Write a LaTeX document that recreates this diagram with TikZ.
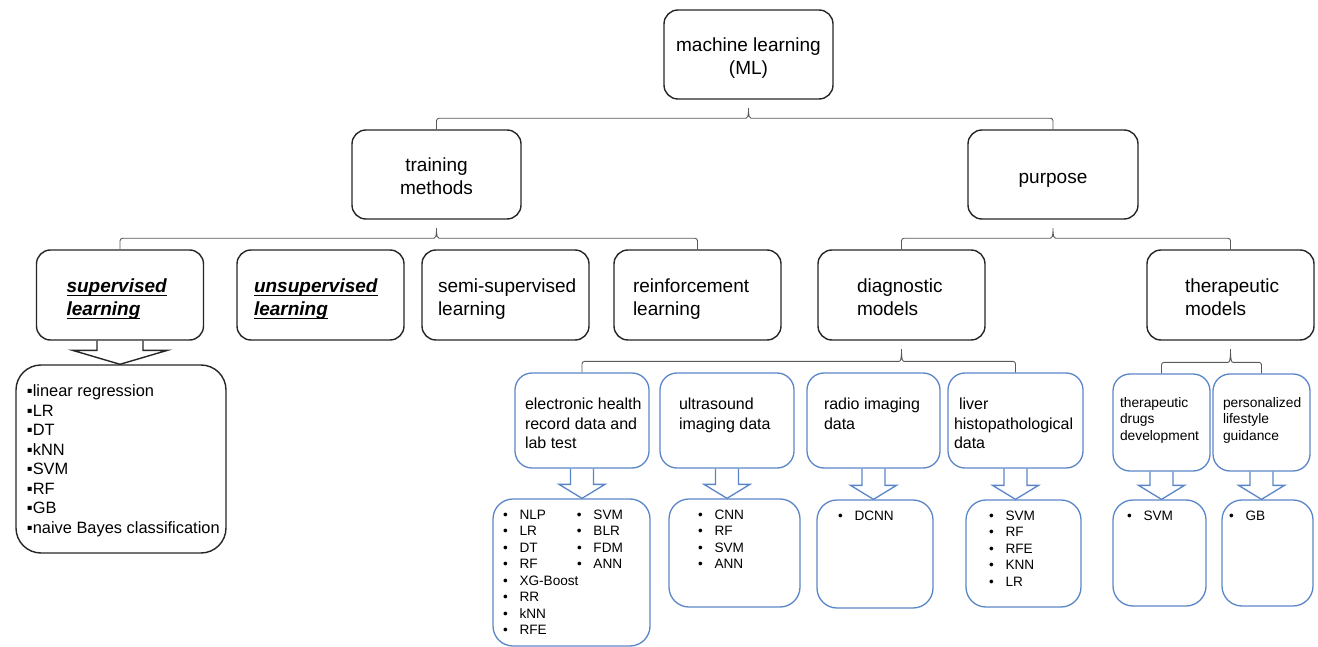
\documentclass[tikz,border=0pt]{standalone}
\usepackage{fontspec}
\setmainfont{Liberation Sans}
\usetikzlibrary{calc}
\definecolor{boxblue}{RGB}{90,134,200}
\def\bracket(#1)(#2)(#3){\draw[brk] let \p1=(#1.north), \p2=(#2.south), \p3=(#3.north) in (\x1,\y1) -- (\x1,\y1+11pt) -- (\x2-5pt,\y1+11pt) .. controls (\x2-1pt,\y1+11pt) and (\x2,\y1+13pt) .. (\x2,\y2-7pt) .. controls (\x2,\y1+13pt) and (\x2+1pt,\y1+11pt) .. (\x2+5pt,\y1+11pt) -- (\x3,\y1+11pt) -- (\x3,\y3);}
\def\blockarrow[#1](#2)(#3)(#4:#5:#6){\draw[#1] let \p1=(#2.south), \p2=(#3.north) in (\x1-#4pt,\y1) -- (\x1-#4pt,\y2+#6pt) -- (\x1-#5pt,\y2+#6pt) -- (\x1,\y2) -- (\x1+#5pt,\y2+#6pt) -- (\x1+#4pt,\y2+#6pt) -- (\x1+#4pt,\y1);}
\newcommand\tbox[5]{\parbox[t][#2pt][t]{#1pt}{\vspace*{#4pt}\raggedright\leftskip=#3pt #5}}
\newcommand\lbl[2]{\parbox{167pt}{\raggedright\leftskip=#1pt\rule{0pt}{23pt}#2\rule[-5pt]{0pt}{5pt}}}
\newcommand\cbl[2]{\parbox{#1pt}{\centering\rule{0pt}{23pt}#2\rule[-5pt]{0pt}{5pt}}}
\newcommand\ubi[1]{\leavevmode\setbox0\hbox{\textbf{\textit{#1}}}\rlap{\rule[-3.5pt]{\wd0}{1.3pt}}\box0}
\newcommand\bl{\makebox[16.5pt][l]{•}}
\newcommand\sq{▪}

\begin{document}
\begin{tikzpicture}[x=1pt,y=-1pt,
	rbox/.style={draw=black!85,line width=1.4pt,rounded corners=14pt,minimum height=89pt,inner sep=0pt,font=\fontsize{19}{23}\selectfont},
	lvbox/.style={draw=black!85,line width=1.4pt,rounded corners=14pt,minimum height=90pt,inner sep=0pt,font=\fontsize{19}{23}\selectfont},
	bbox/.style={draw=boxblue,line width=1.3pt,rounded corners=17pt,inner sep=0pt,font=\fontsize{16}{19.5}\selectfont},
	sbox/.style={bbox,font=\fontsize{13.8}{16.5}\selectfont},
	lbox/.style={bbox,rounded corners=20pt,font=\fontsize{13.6}{16.5}\selectfont},
	brk/.style={draw=black!65,line width=0.9pt,rounded corners=2.5pt},
	barrow/.style={draw=boxblue,line width=1.3pt}]
		%%%%% START %%%%%
		\useasboundingbox (0,0) rectangle (1318,647);
		
		\node[rbox] (ml) at (748.5,54.5) {\cbl{169}{machine learning\\(ML)}};
		\node[rbox] (train) at (436.5,174.5) {\cbl{169}{training\\methods}};
		\node[rbox] (purp) at (1053,174.5) {\cbl{170}{purpose}};
		
		\node[lvbox] (sup) at (120,295) {\lbl{30}{\ubi{supervised}\\\ubi{learning}}};
		\node[lvbox] (unsup) at (320.5,295) {\lbl{17}{\ubi{unsupervised}\\\ubi{learning}}};
		\node[lvbox] (semi) at (505.5,295) {\lbl{16}{semi-supervised\\learning}};
		\node[lvbox] (reinf) at (697.5,295) {\lbl{19}{reinforcement\\learning}};
		\node[lvbox] (diag) at (901.5,295) {\lbl{39}{diagnostic\\models}};
		\node[lvbox] (ther) at (1230.5,295) {\lbl{38}{therapeutic\\models}};
		
		\node[draw=black!85,line width=1.4pt,rounded corners=25pt,inner sep=0pt,font=\fontsize{16.4}{19.5}\selectfont] (supl) at (121,459)
			{\tbox{210}{188}{11}{20}{\sq linear regression\\\sq LR\\\sq DT\\\sq kNN\\\sq SVM\\\sq RF\\\sq GB\\\sq naive Bayes classification}};
		
		\node[bbox] (ehr) at (582,420.5) {\tbox{134}{95}{10}{25}{electronic health\\record data and\\lab test}};
		\node[bbox] (us) at (727,420.5) {\tbox{134}{95}{19}{25}{ultrasound\\imaging data}};
		\node[bbox] (rad) at (873.5,420.5) {\tbox{133}{95}{17}{25}{radio imaging\\data}};
		\node[bbox] (liv) at (1015.5,420.5) {\tbox{135}{95}{6}{25}{\hspace{5pt}liver\\histopathological\\data}};
		\node[sbox] (drug) at (1161.5,422.5) {\tbox{97}{97}{7}{23}{therapeutic\\drugs\\development}};
		\node[sbox] (pers) at (1261.5,422.5) {\tbox{97}{97}{10}{23}{personalized\\lifestyle\\guidance}};
		
		\node[lbox] (ehrl) at (571.5,572.5) {\tbox{157}{147}{10}{11}{\makebox[74pt][l]{\bl NLP}\bl SVM\\\makebox[74pt][l]{\bl LR}\bl BLR\\\makebox[74pt][l]{\bl DT}\bl FDM\\\makebox[74pt][l]{\bl RF}\bl ANN\\\bl XG-Boost\\\bl RR\\\bl kNN\\\bl RFE}};
		\node[lbox] (usl) at (734.5,553) {\tbox{131}{108}{29}{11}{\bl CNN\\\bl RF\\\bl SVM\\\bl ANN}};
		\node[lbox] (radl) at (875,554) {\tbox{116}{108}{21}{11}{\bl DCNN}};
		\node[lbox] (livl) at (1023.5,553.5) {\tbox{115}{107}{23}{11}{\bl SVM\\\bl RF\\\bl RFE\\\bl KNN\\\bl LR}};
		\node[lbox] (drugl) at (1159.5,553) {\tbox{93}{106}{14}{11}{\bl SVM}};
		\node[lbox] (persl) at (1267.5,553) {\tbox{91}{106}{7}{11}{\bl GB}};
		
		% brackets
		\bracket(train)(ml)(purp)
		\bracket(sup)(train)(reinf)
		\bracket(diag)(purp)(ther)
		\bracket(ehr)(diag)(liv)
		\bracket(drug)(ther)(pers)
		
		% arrows to the lists
		\blockarrow[draw=black!85,line width=1.4pt](sup)(supl)(23:47.5:14)
		\blockarrow[barrow](ehr)(ehrl)(11.5:23:14)
		\blockarrow[barrow](us)(usl)(11.5:23:14)
		\blockarrow[barrow](rad)(radl)(11.5:23:14)
		\blockarrow[barrow](liv)(livl)(11.5:23:14)
		\blockarrow[barrow](drug)(drugl)(11.5:23:14)
		\blockarrow[barrow](pers)(persl)(11.5:23:14)
		%%%%% END %%%%%
\end{tikzpicture}
\end{document}
